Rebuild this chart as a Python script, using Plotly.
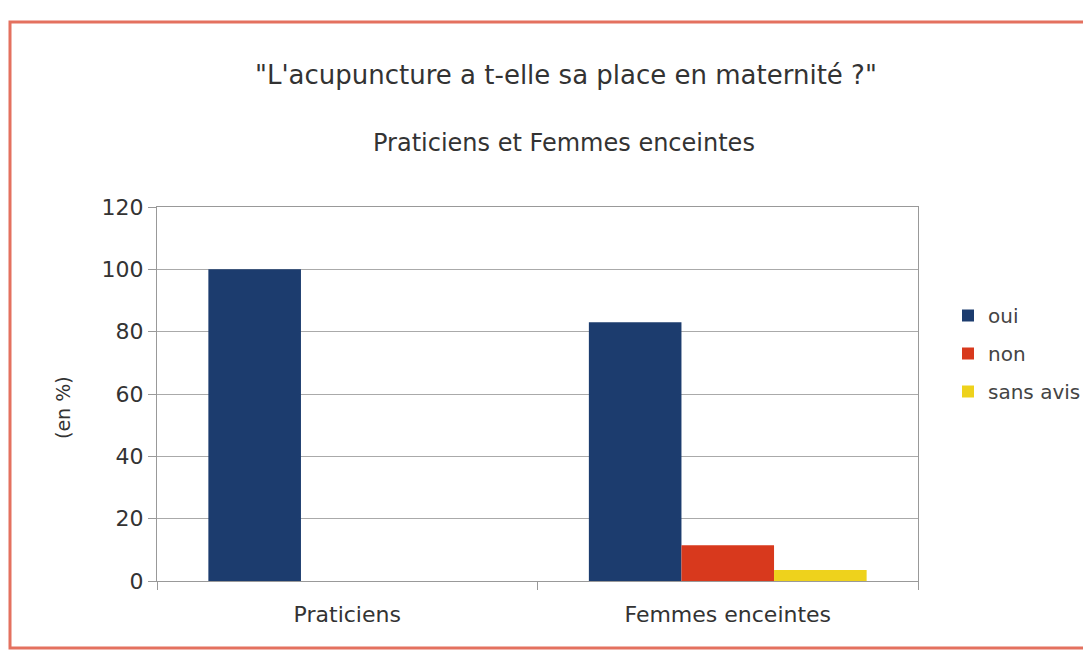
import plotly.graph_objects as go

categories = ["Praticiens", "Femmes enceintes"]
oui = [100, 83]
non = [0, 11.5]
sans_avis = [0, 3.5]
series_names = ["oui", "non", "sans avis"]
y_ticks = [0, 20, 40, 60, 80, 100, 120]

colors = ["#1c3c6e", "#d8391d", "#eed21c"]

fig = go.Figure()
for i, (name, vals) in enumerate(zip(series_names, [oui, non, sans_avis])):
    fig.add_trace(go.Bar(x=categories, y=vals, name=name, marker_color=colors[i],
                         marker_line_width=0, legendgroup=name))

W, H = 1091, 652
OFF = 8   # page body margin
L, R, T, B = 157 - OFF, W - (918 - OFF), 207 - OFF, H - (581 - OFF)
pw, ph = W - L - R, H - T - B


def px_x(x):
    return (x - OFF - L) / pw


def px_y(y):
    return (H - B - (y - OFF)) / ph


FONT = "DejaVu Sans, Liberation Sans, Arial, sans-serif"

fig.update_layout(
    width=W, height=H,
    margin=dict(l=L, r=R, t=T, b=B),
    paper_bgcolor="white", plot_bgcolor="white",
    font=dict(family=FONT, color="#333333", size=18),
    barmode="group", bargap=0.27, bargroupgap=0,
    showlegend=True,
    legend=dict(x=px_x(948), y=px_y(296), xanchor="left", yanchor="top",
                font=dict(size=20, color="#444444"), tracegroupgap=9,
                bgcolor="rgba(0,0,0,0)"),
    xaxis=dict(showline=True, linecolor="#999999", mirror=True, ticks="outside",
               tickson="boundaries", ticklen=8, tickcolor="#999999",
               ticklabelstandoff=14,
               tickfont=dict(size=22, color="#333333")),
    yaxis=dict(range=[0, 120], tickvals=y_ticks, showgrid=True, gridcolor="#aaaaaa",
               showline=True, linecolor="#999999", mirror=True, ticks="outside",
               ticklen=8, tickcolor="#999999", zeroline=False,
               tickfont=dict(size=22, color="#333333")),
    annotations=[
        dict(text="\"L'acupuncture a t-elle sa place en maternité ?\"", xref="paper", yref="paper",
             x=px_x(566), y=px_y(75), xanchor="center", yanchor="middle",
             showarrow=False, font=dict(size=26, color="#333333")),
        dict(text="Praticiens et Femmes enceintes", xref="paper", yref="paper",
             x=px_x(564), y=px_y(143), xanchor="center", yanchor="middle",
             showarrow=False, font=dict(size=24, color="#333333")),
        dict(text="(en %)", xref="paper", yref="paper", x=px_x(63), y=px_y(408),
             xanchor="center", yanchor="middle",
             showarrow=False, textangle=-90, font=dict(size=19, color="#333333")),
    ],
    shapes=[
        dict(type="rect", xref="paper", yref="paper", x0=px_x(10), x1=px_x(1110),
             y0=px_y(648), y1=px_y(22), line=dict(color="#e4715f", width=3)),
    ],
)

fig.write_html("out.html")
